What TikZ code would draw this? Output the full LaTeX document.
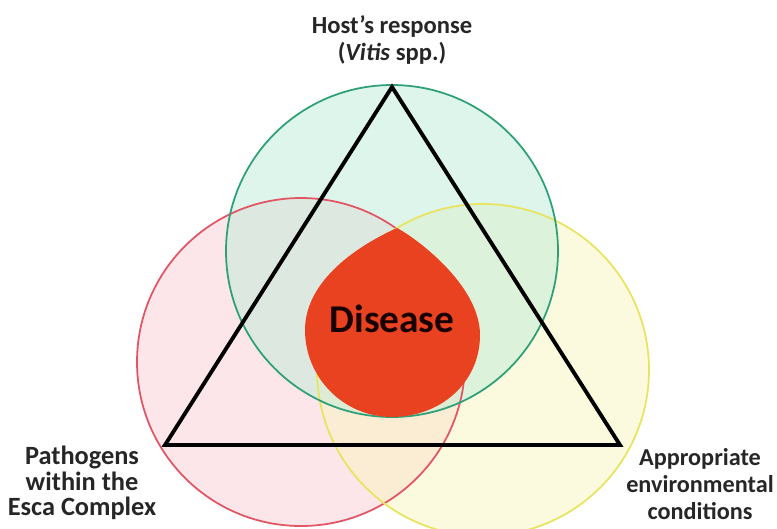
\documentclass[tikz,border=0pt]{standalone}
\usepackage{fontspec}
\setmainfont{Carlito}

\definecolor{verdeborde}{RGB}{45,160,120}
\definecolor{verdefondo}{RGB}{190,235,215}
\definecolor{rojoborde}{RGB}{225,85,100}
\definecolor{rojofondo}{RGB}{250,205,212}
\definecolor{amarilloborde}{RGB}{232,228,95}
\definecolor{amarillofondo}{RGB}{250,245,190}
\definecolor{gota}{RGB}{233,66,32}

\begin{document}
\begin{tikzpicture}[x=0.02cm, y=-0.02cm,
  etiqueta/.style={align=center, text=black!85, font=\fontsize{15}{14.5}\selectfont\bfseries}]
  \useasboundingbox (0,0) rectangle (777,528);

  % Fondos de los tres circulos (patogeno, ambiente, hospedante)
  \fill[rojofondo, fill opacity=0.5] (301,362) circle (164);
  \fill[amarillofondo, fill opacity=0.5] (483,370) circle (166);
  \fill[verdefondo, fill opacity=0.5] (392,251) circle (166);

  % Bordes de los circulos
  \draw[rojoborde, line width=1pt] (301,362) circle (164);
  \draw[amarilloborde, line width=1pt] (483,370) circle (166);
  \draw[verdeborde, line width=1pt] (392,251) circle (166);

  % Triangulo de la enfermedad
  \coordinate (vertice) at (392,87);
  \coordinate (izquierda) at (165,445);
  \coordinate (derecha) at (620,445);
  \draw[line width=2.2pt] (vertice) -- (izquierda) -- (derecha) -- cycle;

  % Gota central
  \fill[gota] (397,228) .. controls (370,240) and (305,275) .. (305,330)
    .. controls (305,378) and (344,417) .. (392,417)
    .. controls (440,417) and (480,383) .. (480,335)
    .. controls (480,285) and (416,238) .. (397,228) -- cycle;
  \node[text=black!90!red, font=\fontsize{22.4}{25}\selectfont\bfseries] (enfermedad) at (392,319) {Disease};

  % Etiquetas de los vertices
  \node[etiqueta, font=\fontsize{14}{15.3}\selectfont\bfseries] (hospedante) at (392,40) {Host’s response\\(\textit{Vitis} spp.)};
  \node[etiqueta] (patogeno) at (82,483) {Pathogens\\within the\\Esca Complex};
  \node[etiqueta, font=\fontsize{13.8}{15.3}\selectfont\bfseries] (ambiente) at (700,484) {Appropriate\\environmental\\conditions};
\end{tikzpicture}
\end{document}
